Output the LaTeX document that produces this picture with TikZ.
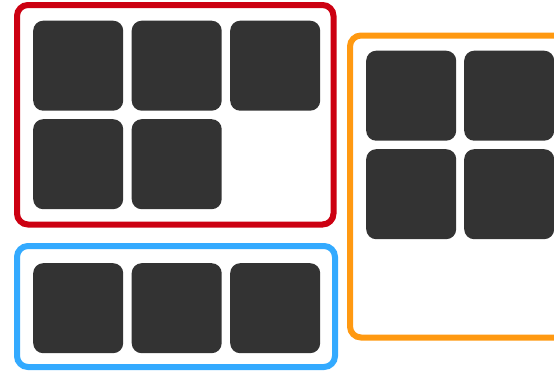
\documentclass[tikz,border=0pt]{standalone}
\definecolor{tilegray}{HTML}{333333}
\definecolor{boxred}{HTML}{CC0011}
\definecolor{boxblue}{HTML}{33AAFF}
\definecolor{boxorange}{HTML}{FF9911}
\begin{document}
\begin{tikzpicture}[x=1pt,y=-1pt,
  tile/.style={fill=tilegray,draw=none,rounded corners=10pt,minimum width=90pt,minimum height=90pt,inner sep=0pt,anchor=north west},
  group/.style={line width=6pt,rounded corners=11pt,fill=none}]
\useasboundingbox (0,0) rectangle (554,372);
\clip (0,0) rectangle (554,372);
% group frames
\draw[group,draw=boxred] (17,5) rectangle (333.5,224.5);
\draw[group,draw=boxblue] (17,246) rectangle (335,367);
\draw[group,draw=boxorange] (350,35.5) rectangle (580,337.5);
% red tiles
\node[tile] (r1) at (33,20.5) {};
\node[tile] (r2) at (131.5,20.5) {};
\node[tile] (r3) at (230,20.5) {};
\node[tile] (r4) at (33,119) {};
\node[tile] (r5) at (131.5,119) {};
% blue tiles
\node[tile] (b1) at (33,263) {};
\node[tile] (b2) at (131.5,263) {};
\node[tile] (b3) at (230,263) {};
% orange tiles
\node[tile] (o1) at (366,50.5) {};
\node[tile] (o2) at (464,50.5) {};
\node[tile] (o3) at (366,149) {};
\node[tile] (o4) at (464,149) {};
\end{tikzpicture}
\end{document}
